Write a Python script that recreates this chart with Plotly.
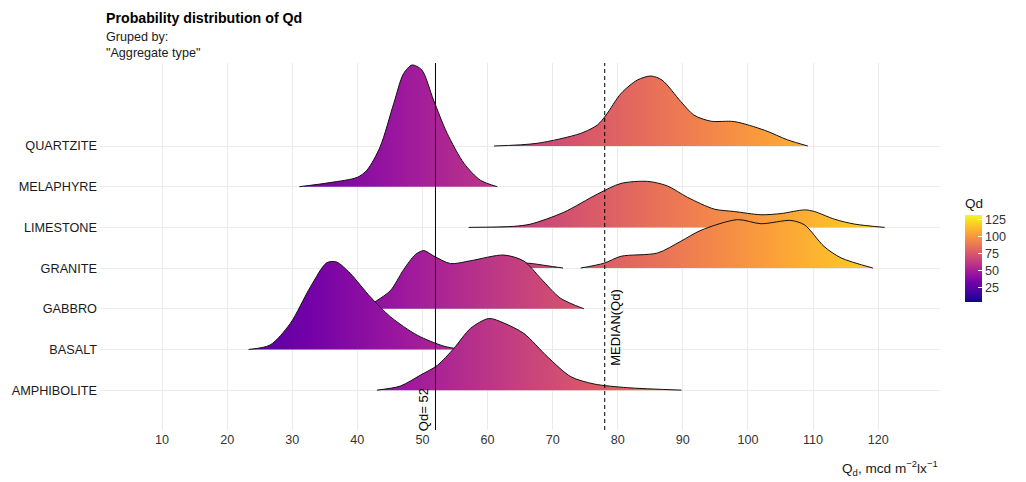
import plotly.graph_objects as go

# Aggregate types, bottom row first
categories = ["AMPHIBOLITE", "BASALT", "GABBRO", "GRANITE", "LIMESTONE", "MELAPHYRE", "QUARTZITE"]

# Ridge outlines: Qd values and scaled density heights (in row units)
amphibolite_qd = [43.0, 46.6, 49.7, 52.3, 54.8, 57.4, 60.2, 62.5, 65.6, 69.2, 72.8, 76.4, 81.5, 89.8]
amphibolite_h = [0.0, 0.10, 0.37, 0.61, 1.02, 1.52, 1.76, 1.65, 1.39, 0.82, 0.33, 0.15, 0.06, 0.0]

basalt_qd = [23.3, 26.6, 29.7, 32.8, 35.3, 36.8, 38.9, 42.0, 45.1, 49.2, 53.3, 56.0]
basalt_h = [0.0, 0.11, 0.64, 1.54, 2.13, 2.15, 1.87, 1.29, 0.80, 0.35, 0.08, 0.0]

gabbro_qd = [41.0, 43.0, 45.1, 47.1, 48.9, 50.2, 51.7, 54.3, 57.4, 62.5, 65.6, 68.2, 71.2, 74.8]
gabbro_h = [0.0, 0.20, 0.45, 0.96, 1.33, 1.43, 1.30, 1.11, 1.18, 1.32, 1.17, 0.74, 0.26, 0.0]

granite_low_qd = [55.0, 58.0, 62.0, 66.2, 69.0, 71.6]
granite_low_h = [0.0, 0.05, 0.10, 0.12, 0.06, 0.0]
granite_high_qd = [74.3, 77.9, 80.5, 86.1, 89.7, 92.8, 98.4, 102.0, 106.6, 108.7, 111.7, 114.3, 119.2]
granite_high_h = [0.0, 0.12, 0.29, 0.37, 0.66, 0.93, 1.19, 1.09, 1.17, 1.06, 0.53, 0.25, 0.0]

limestone_qd = [57.1, 64.0, 66.6, 71.7, 76.9, 80.5, 84.6, 87.6, 90.7, 94.8, 97.9, 102.0, 105.1, 108.7, 110.2, 113.3, 116.4, 121.0]
limestone_h = [0.0, 0.025, 0.08, 0.37, 0.82, 1.08, 1.13, 1.02, 0.74, 0.45, 0.39, 0.31, 0.34, 0.43, 0.39, 0.20, 0.08, 0.0]

melaphyre_qd = [31.1, 35.8, 40.0, 41.5, 43.5, 45.6, 47.1, 48.4, 49.9, 51.7, 53.8, 56.4, 58.9, 61.5]
melaphyre_h = [0.0, 0.10, 0.23, 0.41, 0.98, 2.05, 2.78, 2.99, 2.87, 2.13, 1.31, 0.57, 0.16, 0.0]

quartzite_qd = [61.0, 67.6, 74.3, 76.9, 78.2, 80.5, 83.0, 85.1, 86.8, 89.7, 91.7, 94.3, 97.9, 102.5, 106.1, 109.2]
quartzite_h = [0.0, 0.066, 0.31, 0.52, 0.76, 1.29, 1.62, 1.72, 1.62, 1.09, 0.76, 0.61, 0.60, 0.39, 0.15, 0.0]

ridges = {
    "AMPHIBOLITE": [(amphibolite_qd, amphibolite_h)],
    "BASALT": [(basalt_qd, basalt_h)],
    "GABBRO": [(gabbro_qd, gabbro_h)],
    "GRANITE": [(granite_low_qd, granite_low_h), (granite_high_qd, granite_high_h)],
    "LIMESTONE": [(limestone_qd, limestone_h)],
    "MELAPHYRE": [(melaphyre_qd, melaphyre_h)],
    "QUARTZITE": [(quartzite_qd, quartzite_h)],
}

QD_REF = 52
QD_MEDIAN = 78
COLOR_MIN, COLOR_MAX = 4, 132
x_ticks = [10, 20, 30, 40, 50, 60, 70, 80, 90, 100, 110, 120]
colorbar_ticks = [25, 50, 75, 100, 125]

FONT = "Liberation Sans, Arial, sans-serif"

fig = go.Figure()

# Draw from the top row down so lower ridges overlap the ones above
for row in reversed(range(len(categories))):
    for xs, hs in ridges[categories[row]]:
        ys = [row + h for h in hs]
        fig.add_trace(go.Scatter(
            x=xs, y=ys, mode="lines", fill="toself",
            fillgradient=dict(type="horizontal", colorscale="Plasma",
                              start=COLOR_MIN, stop=COLOR_MAX),
            line=dict(width=0, shape="spline", smoothing=0.8),
            hoverinfo="skip", showlegend=False,
        ))
        fig.add_trace(go.Scatter(
            x=xs, y=ys, mode="lines",
            line=dict(color="#111111", width=1.0, shape="spline", smoothing=0.8),
            hoverinfo="skip", showlegend=False,
        ))

# Colour scale legend
fig.add_trace(go.Scatter(
    x=[QD_MEDIAN], y=[-5], mode="markers",
    marker=dict(size=1, opacity=0, color=[COLOR_MIN], colorscale="Plasma",
                cmin=COLOR_MIN, cmax=COLOR_MAX, showscale=True,
                colorbar=dict(
                    title=dict(text="Qd", side="top", font=dict(size=13.5, color="#1a1a1a", family=FONT)),
                    x=1.0298, xanchor="left", xpad=0,
                    y=0.4946, yanchor="middle", ypad=0,
                    thickness=17, len=107, lenmode="pixels",
                    tickvals=colorbar_ticks, ticks="inside", ticklen=4,
                    tickcolor="white", tickwidth=1,
                    tickfont=dict(size=12.6, color="#333333", family=FONT),
                    outlinewidth=0,
                )),
    hoverinfo="skip", showlegend=False,
))

# Reference and median lines
fig.add_shape(type="line", xref="x", yref="paper", x0=QD_REF, x1=QD_REF, y0=0, y1=1,
              line=dict(color="black", width=1), layer="above")
fig.add_shape(type="line", xref="x", yref="paper", x0=QD_MEDIAN, x1=QD_MEDIAN, y0=0, y1=1,
              line=dict(color="black", width=1, dash="4px,3px"), layer="above")

fig.add_annotation(x=QD_REF, y=-0.48, xref="x", yref="y", text=f"Qd= {QD_REF}",
                   textangle=-90, showarrow=False, xanchor="center", yanchor="middle",
                   xshift=-12, font=dict(size=13, color="black", family=FONT))
fig.add_annotation(x=QD_MEDIAN, y=1.55, xref="x", yref="y", text="MEDIAN(Qd)",
                   textangle=-90, showarrow=False, xanchor="center", yanchor="middle",
                   xshift=10, font=dict(size=13, color="black", family=FONT))

# Titles
fig.add_annotation(x=0.005, y=1.1226, xref="paper", yref="paper",
                   text="<b>Probability distribution of Qd</b>", showarrow=False,
                   xanchor="left", yanchor="middle", align="left",
                   font=dict(size=14.2, color="black", family=FONT))
fig.add_annotation(x=0.005, y=1.095, xref="paper", yref="paper",
                   text="Gruped by:<br>\"Aggregate type\"", showarrow=False,
                   xanchor="left", yanchor="top", align="left",
                   font=dict(size=12.6, color="#1a1a1a", family=FONT))
fig.add_annotation(x=1.0, y=-0.1035, xref="paper", yref="paper",
                   text="Q<sub>d</sub>, mcd m<sup>\u22122</sup>lx<sup>\u22121</sup>",
                   showarrow=False, xanchor="right", yanchor="middle",
                   font=dict(size=13.6, color="#1a1a1a", family=FONT))

fig.update_layout(
    width=1026, height=482,
    margin=dict(l=100, r=86, t=63, b=52),
    plot_bgcolor="white", paper_bgcolor="white",
    font=dict(family=FONT),
    xaxis=dict(range=[0.47, 129.5], tickvals=x_ticks, showgrid=True,
               gridcolor="#ebebeb", gridwidth=1, zeroline=False, showline=False,
               ticks="", tickfont=dict(size=12.6, color="#333333", family=FONT)),
    yaxis=dict(range=[-0.98, 8.04], tickvals=list(range(len(categories))),
               ticktext=categories, showgrid=True, gridcolor="#ebebeb", gridwidth=1,
               zeroline=False, showline=False, ticks="", ticklabelstandoff=2,
               tickfont=dict(size=12.7, color="#1a1a1a", family=FONT)),
)

fig.write_html("out.html")
